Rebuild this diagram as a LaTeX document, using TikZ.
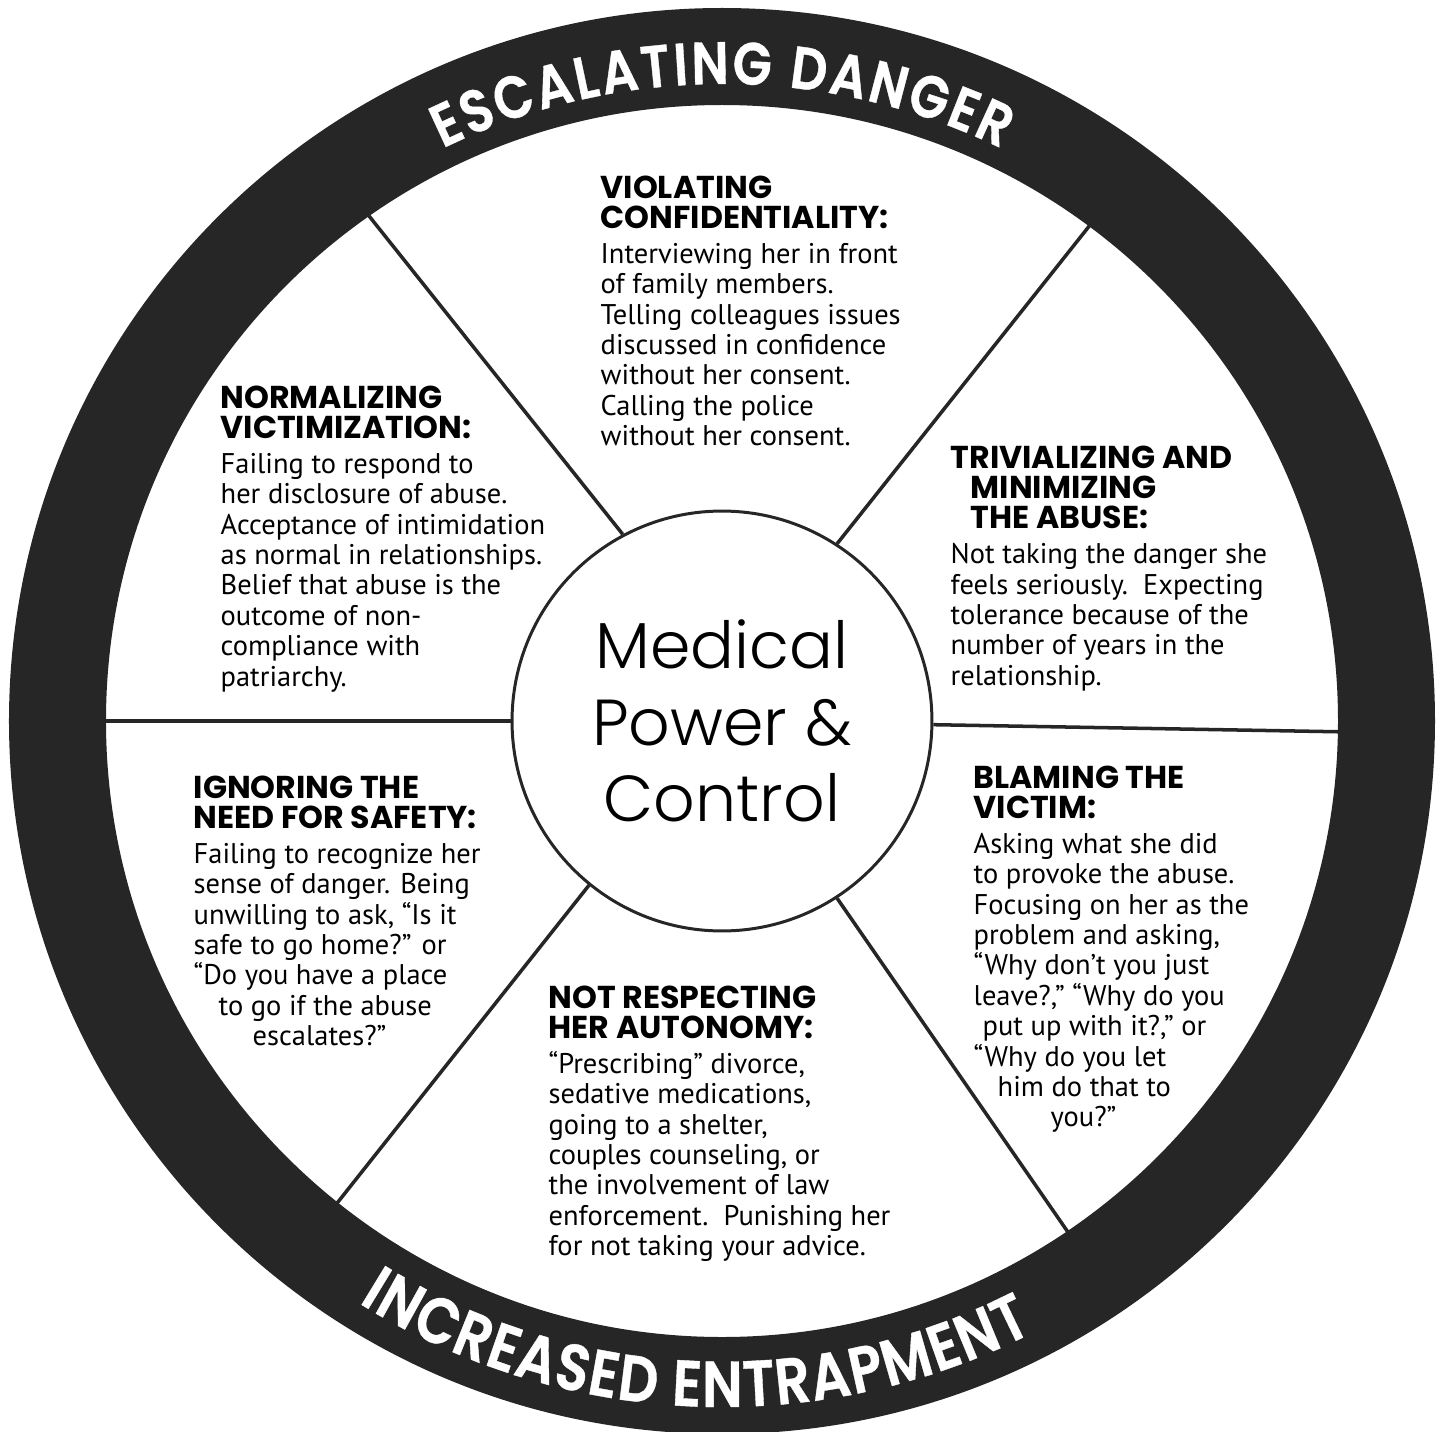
\documentclass[tikz,border=0pt]{standalone}
\usepackage{fontspec}
\usetikzlibrary{decorations.text,positioning}
\IfFontExistsTF{Poppins SemiBold}
  {\newfontfamily\ringfont{Poppins SemiBold}[FakeStretch=0.85,FakeBold=0.6]}
  {\newfontfamily\ringfont{Poppins Bold}[FakeStretch=0.85]}
\newfontfamily\wheelhead{Poppins Bold}
\IfFontExistsTF{Poppins Light}{\newfontfamily\hubfont{Poppins Light}}{\newfontfamily\hubfont{Poppins}}
\newfontfamily\wheelbody{PT Sans}
\definecolor{ringgray}{RGB}{38,38,38}
\newcommand{\hd}[1]{{\wheelhead\fontsize{18}{17.3}\selectfont #1}}

\begin{document}
\begin{tikzpicture}[x=0.02cm,y=0.02cm,thick]
  \tikzstyle{spoke}=[line width=2pt,draw=ringgray]
  \tikzstyle{slice}=[anchor=north west,inner sep=0pt,align=left,font=\wheelbody\fontsize{16.2}{17.3}\selectfont]
  \tikzstyle{ringtext}=[decorate,decoration={text along path,text align=fit to path,text color=white}]

  \useasboundingbox (-722,-710) rectangle (721,721);

  % hub and spokes
  \node[circle,draw=ringgray,line width=1.7pt,minimum size=8.4cm,inner sep=0pt,
        font=\hubfont\fontsize{37}{43.4}\selectfont,align=center] (hub) {Medical\\Power \&\\Control};
  \foreach \i/\a/\b in {1/-1/-1, 2/53.4/57.3, 3/125/118.9, 4/180/180, 5/231.4/231.3, 6/304.1/303.7} {
    \coordinate (rim\i) at (\a:625);
    \draw[spoke] (hub.\b) -- (rim\i);
  }

  % outer ring
  \fill[ringgray,even odd rule] (0,0) circle (713) (0,0) circle (616);
  \path[ringtext,decoration={text={|\ringfont\fontsize{34}{34}\selectfont|ESCALATING DANGER}}]
    (116:637) arc (116:64:637);
  \path[ringtext,decoration={text={|\ringfont\fontsize{37}{37}\selectfont|INCREASED ENTRAPMENT}}]
    (238:686) arc (238:297:686);

  % the six slices
  \node[slice] (confid) at (-122,546) {\hd{VIOLATING}\\\hd{CONFIDENTIALITY:}\\[2.5pt]
    Interviewing her in front\\of family members.\\Telling colleagues issues\\
    discussed in confidence\\without her consent.\\Calling the police\\without her consent.};
  \node[slice] (normal) at (-502,336) {\hd{NORMALIZING}\\\hd{VICTIMIZATION:}\\[2.5pt]
    Failing to respond to\\her disclosure of abuse.\\Acceptance of intimidation\\
    as normal in relationships.\\Belief that abuse is the\\outcome of non-\\compliance with\\patriarchy.};
  \node[slice] (trivial) at (228,276) {\hd{TRIVIALIZING AND}\\\hspace*{0.4cm}\hd{MINIMIZING}\\
    \hspace*{0.4cm}\hd{THE ABUSE:}\\[2.5pt]
    Not taking the danger she\\feels seriously.\ \ Expecting\\tolerance because of the\\
    number of years in the\\relationship.};
  \node[slice] (safety) at (-529,-54) {\hd{IGNORING THE}\\\hd{NEED FOR SAFETY:}\\[2.5pt]
    Failing to recognize her\\sense of danger. Being\\unwilling to ask, “Is it\\
    safe to go home?” or\\“Do you have a place\\\hspace*{0.5cm}to go if the abuse\\
    \hspace*{1.18cm}escalates?”};
  \node[slice] (blame) at (251,-44) {\hd{BLAMING THE}\\\hd{VICTIM:}\\[2.5pt]
    Asking what she did\\to provoke the abuse.\\Focusing on her as the\\problem and asking,\\
    “Why don’t you just\\leave?,” “Why do you\\\hspace*{0.18cm}put up with it?,” or\\
    “Why do you let\\\hspace*{0.48cm}him do that to\\\hspace*{1.54cm}you?”};
  \node[slice] (autonomy) at (-174,-264) {\hd{NOT RESPECTING}\\\hd{HER AUTONOMY:}\\[2.5pt]
    “Prescribing” divorce,\\sedative medications,\\going to a shelter,\\
    couples counseling, or\\the involvement of law\\enforcement.\ \ Punishing her\\
    for not taking your advice.};
\end{tikzpicture}
\end{document}
